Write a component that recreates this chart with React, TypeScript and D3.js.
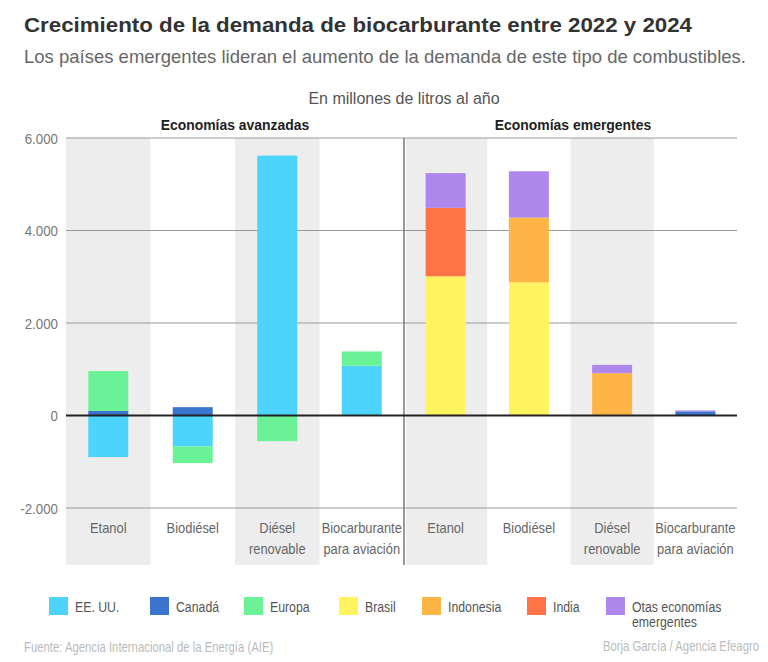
import React from "react";
import * as d3 from "d3";

// categorías de cada panel
const categories = ["Etanol", "Biodiésel", "Diésel renovable", "Biocarburante para aviación"];
const categoryLines = [["Etanol"], ["Biodiésel"], ["Diésel", "renovable"], ["Biocarburante", "para aviación"]];

// series (millones de litros al año)
const series = ["EE. UU.", "Canadá", "Europa", "Brasil", "Indonesia", "India", "Otras"];
const legendLabels = ["EE. UU.", "Canadá", "Europa", "Brasil", "Indonesia", "India", "Otas economías|emergentes"];
const colors = ["#4cd4fc", "#3b74cf", "#6bf196", "#fff35f", "#ffb446", "#ff7447", "#ae86ec"];

// economías avanzadas
const usaAdv = [-900, -670, 5620, 1075];
const canadaAdv = [100, 180, 0, 0];
const europeAdv = [860, -360, -555, 310];
// economías emergentes
const canadaEm = [0, 0, 0, 90];
const brasilEm = [3010, 2880, 0, 0];
const indonesiaEm = [0, 1400, 915, 0];
const indiaEm = [1480, 0, 0, 0];
const otrasEm = [750, 1000, 180, 20];

const yTicks = [-2000, 0, 2000, 4000, 6000];
const grayBands = ["Etanol", "Diésel renovable"];

const FONT = "'Liberation Sans', Arial, sans-serif";

type Seg = { key: string; y0: number; y1: number; color: string };

// apila valores positivos hacia arriba y negativos hacia abajo
function stack(values: { key: string; v: number }[]): Seg[] {
  let pos = 0;
  let neg = 0;
  const out: Seg[] = [];
  values.forEach(({ key, v }) => {
    if (!v) return;
    const color = colors[series.indexOf(key)];
    if (v > 0) {
      out.push({ key, y0: pos, y1: pos + v, color });
      pos += v;
    } else {
      out.push({ key, y0: neg + v, y1: neg, color });
      neg += v;
    }
  });
  return out;
}

// texto estrecho (la fuente original es condensada)
function T(props: {
  x: number;
  y: number;
  sx?: number;
  size: number;
  fill: string;
  anchor?: "start" | "middle" | "end";
  bold?: boolean;
  children: React.ReactNode;
}) {
  const { x, y, sx = 1, size, fill, anchor = "start", bold, children } = props;
  return (
    <text
      transform={`translate(${x},${y}) scale(${sx},1)`}
      textAnchor={anchor}
      fontFamily={FONT}
      fontSize={size}
      fontWeight={bold ? "bold" : "normal"}
      fill={fill}
    >
      {children}
    </text>
  );
}

export default function App() {
  const width = 768;
  const height = 662;
  const left = 66;
  const mid = 404;
  const right = 737;
  const bandTop = 138;
  const bandBottom = 565;

  const y = d3.scaleLinear().domain([-2000, 6000]).range([508, 138]);
  const xAdv = d3.scaleBand<string>().domain(categories).range([left, mid]);
  const xEm = d3.scaleBand<string>().domain(categories).range([mid, right]);
  const barW = 40;

  const advStacks = categories.map((c, i) =>
    stack([
      { key: "EE. UU.", v: usaAdv[i] },
      { key: "Canadá", v: canadaAdv[i] },
      { key: "Europa", v: europeAdv[i] },
    ])
  );
  const emStacks = categories.map((c, i) =>
    stack([
      { key: "Canadá", v: canadaEm[i] },
      { key: "Brasil", v: brasilEm[i] },
      { key: "Indonesia", v: indonesiaEm[i] },
      { key: "India", v: indiaEm[i] },
      { key: "Otras", v: otrasEm[i] },
    ])
  );

  const fmt = (v: number) => d3.format(",")(v).replace(/,/g, ".").replace("−", "-");

  const legendX = [49, 150, 244, 339, 422, 527, 606];

  const panel = (x: d3.ScaleBand<string>, stacks: Seg[][], pid: string) => (
    <g>
      {categories.map((c, i) => {
        const cx = (x(c) as number) + x.bandwidth() / 2;
        return (
          <g key={pid + c}>
            {stacks[i].map((s) => (
              <rect
                key={s.key}
                x={cx - barW / 2}
                width={barW}
                y={y(s.y1)}
                height={y(s.y0) - y(s.y1)}
                fill={s.color}
              />
            ))}
            {categoryLines[i].map((t, j) => (
              <T key={t} x={cx} y={533 + j * 21} sx={0.86} size={15} anchor="middle" fill="#666">
                {t}
              </T>
            ))}
          </g>
        );
      })}
    </g>
  );

  return (
    <div style={{ position: "absolute", left: 0, top: 0 }}>
      <svg width={width} height={height} style={{ display: "block", background: "#fff" }}>
        <text
          x={24}
          y={32}
          fontFamily={FONT}
          fontWeight="bold"
          fontSize={20}
          fill="#333"
          textLength={668}
          lengthAdjust="spacingAndGlyphs"
        >
          Crecimiento de la demanda de biocarburante entre 2022 y 2024
        </text>
        <text x={24} y={63} fontFamily={FONT} fontSize={18.5} fill="#666">
          Los países emergentes lideran el aumento de la demanda de este tipo de combustibles.
        </text>
        <T x={404} y={104} size={16} anchor="middle" fill="#555">
          En millones de litros al año
        </T>

        {/* franjas grises */}
        {[xAdv, xEm].map((x, k) =>
          grayBands.map((c) => (
            <rect
              key={k + c}
              x={(x(c) as number) + (k === 1 && c === "Etanol" ? 2 : 0)}
              width={x.bandwidth() - (k === 1 && c === "Etanol" ? 2 : 0)}
              y={bandTop}
              height={bandBottom - bandTop}
              fill="#ededed"
            />
          ))
        )}

        {/* cuadrícula */}
        {yTicks.filter((t) => t !== 0).map((t) => (
          <line key={t} x1={left} x2={right} y1={y(t)} y2={y(t)} stroke="#9a9a9a" strokeWidth={1} />
        ))}
        {yTicks.map((t) => (
          <T key={"l" + t} x={58} y={y(t) + 5.5} sx={0.86} size={15.5} anchor="end" fill="#777">
            {fmt(t)}
          </T>
        ))}

        <T x={235} y={130} sx={0.93} size={15} anchor="middle" bold fill="#222">
          Economías avanzadas
        </T>
        <T x={573} y={130} sx={0.93} size={15} anchor="middle" bold fill="#222">
          Economías emergentes
        </T>

        {panel(xAdv, advStacks, "a")}
        {panel(xEm, emStacks, "e")}

        <line x1={mid} x2={mid} y1={bandTop} y2={bandBottom} stroke="#777" strokeWidth={1.5} />
        <line x1={left} x2={right} y1={y(0)} y2={y(0)} stroke="#222" strokeWidth={2} />

        {/* leyenda */}
        {legendLabels.map((l, i) => (
          <g key={l}>
            <rect x={legendX[i]} y={597} width={19} height={18} fill={colors[i]} />
            {l.split("|").map((t, j) => (
              <T key={t} x={legendX[i] + 26} y={612 + j * 15} sx={0.82} size={15} fill="#555">
                {t}
              </T>
            ))}
          </g>
        ))}

        <T x={24} y={652} sx={0.81} size={14} fill="#bbb">
          Fuente: Agencia Internacional de la Energía (AIE)
        </T>
        <T x={759} y={651} sx={0.81} size={14} anchor="end" fill="#bbb">
          Borja García / Agencia Efeagro
        </T>
      </svg>
    </div>
  );
}
